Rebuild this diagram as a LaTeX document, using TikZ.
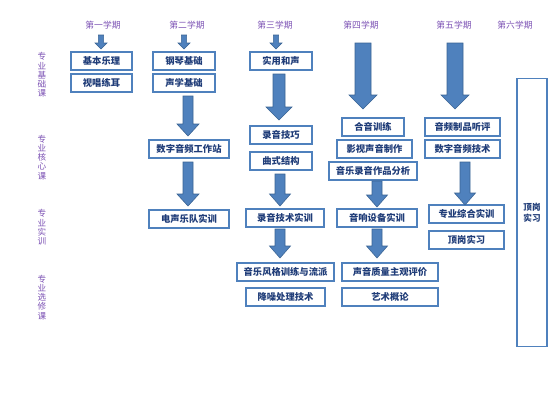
\documentclass[tikz,border=0pt]{standalone}
\usepackage{fontspec}
\newfontfamily\cjk{Noto Sans CJK SC}
\definecolor{boxblue}{HTML}{4F81BD}
\definecolor{arrowedge}{HTML}{3A6494}
\definecolor{navy}{HTML}{1F3C78}
\definecolor{lavender}{HTML}{7C52B4}
\tikzset{
  course/.style={draw=boxblue, line width=1.3pt, fill=white, inner sep=0pt,
    text=navy, font=\cjk\bfseries\fontsize{9.3}{10}\selectfont},
  term/.style={text=lavender, inner sep=0pt, font=\cjk\fontsize{8.8}{10}\selectfont},
  cat/.style={text=lavender, inner sep=0pt, align=center,
    font=\cjk\fontsize{8.6}{9.2}\selectfont},
  blockarrow/.style={fill=boxblue, draw=arrowedge, line width=0.6pt, line join=miter}
}
% x, ytop, ybottom, half shaft, half head, head length
\newcommand\barrow[6]{%
  \filldraw[blockarrow] (#1-#4,#2) -- (#1+#4,#2) -- (#1+#4,#3-#6) -- (#1+#5,#3-#6)
    -- (#1,#3) -- (#1-#5,#3-#6) -- (#1-#4,#3-#6) -- cycle;}
\newcommand\cbox[6]{% name, x1, y1, x2, y2, text
  \node[course, minimum width=#4-#2, minimum height=#5-#3] (#1) at ({(#2+#4)/2},{(#3+#5)/2}) {#6};}
\begin{document}
\begin{tikzpicture}[x=1pt,y=-1pt]
\useasboundingbox (0,0) rectangle (555,402);
% semester labels
\node[term] (s1) at (103,25) {第一学期};
\node[term] (s2) at (187,25) {第二学期};
\node[term] (s3) at (275,25) {第三学期};
\node[term] (s4) at (361,25) {第四学期};
\node[term] (s5) at (454,25) {第五学期};
\node[term] (s6) at (515,25) {第六学期};
% category labels
\node[cat] (c1) at (42,75) {专\\业\\基\\础\\课};
\node[cat] (c2) at (42,157.5) {专\\业\\核\\心\\课};
\node[cat] (c3) at (42,227.5) {专\\业\\实\\训};
\node[cat] (c4) at (42,297.5) {专\\业\\选\\修\\课};
% column 1
\cbox{b11}{71}{52}{132}{70}{基本乐理}
\cbox{b12}{71}{74}{132}{92}{视唱练耳}
% column 2
\cbox{b21}{153}{52}{215}{70}{钢琴基础}
\cbox{b22}{153}{74}{215}{92}{声学基础}
\cbox{b23}{149}{140}{229}{158}{数字音频工作站}
\cbox{b24}{149}{210}{229}{228}{电声乐队实训}
% column 3
\cbox{b31}{250}{52}{312}{70}{实用和声}
\cbox{b32}{250}{126}{312}{144}{录音技巧}
\cbox{b33}{250}{152}{312}{170}{曲式结构}
\cbox{b34}{246}{209}{324}{227}{录音技术实训}
\cbox{b35}{237}{263}{334}{281}{音乐风格训练与流派}
\cbox{b36}{246}{288}{325}{306}{降噪处理技术}
% column 4
\cbox{b41}{342}{118}{404}{136}{合音训练}
\cbox{b42}{337}{140}{412}{158}{影视声音制作}
\cbox{b43}{329}{162}{417}{180}{音乐录音作品分析}
\cbox{b44}{337}{209}{417}{227}{音响设备实训}
\cbox{b45}{342}{263}{438}{281}{声音质量主观评价}
\cbox{b46}{342}{288}{438}{306}{艺术概论}
% column 5
\cbox{b51}{425}{118}{500}{136}{音频制品听评}
\cbox{b52}{425}{140}{500}{158}{数字音频技术}
\cbox{b53}{429}{205}{504}{223}{专业综合实训}
\cbox{b54}{429}{231}{504}{249}{顶岗实习}
% column 6
\node[course, minimum width=30, minimum height=268, align=center,
  font=\cjk\bfseries\fontsize{8.6}{10.5}\selectfont] (b61) at (532,212.5) {顶岗\\实习};
% arrows
\barrow{101}{35}{49}{2.6}{6}{6}
\barrow{184}{35}{49}{2.6}{6}{6}
\barrow{276}{35}{49}{2.6}{6}{6}
\barrow{188}{96}{136}{5}{11}{12}
\barrow{188}{162}{206}{5}{11}{12}
\barrow{279}{74}{120}{6}{13}{13}
\barrow{280}{174}{206}{5}{10.5}{12}
\barrow{280}{229}{258}{5}{10.5}{12}
\barrow{363}{43}{109}{8}{14}{14}
\barrow{455}{43}{109}{8}{14}{14}
\barrow{377}{181}{207}{5}{10.5}{12}
\barrow{377}{229}{258}{5}{10.5}{12}
\barrow{465}{162}{205}{5}{10.5}{12}
\end{tikzpicture}
\end{document}
